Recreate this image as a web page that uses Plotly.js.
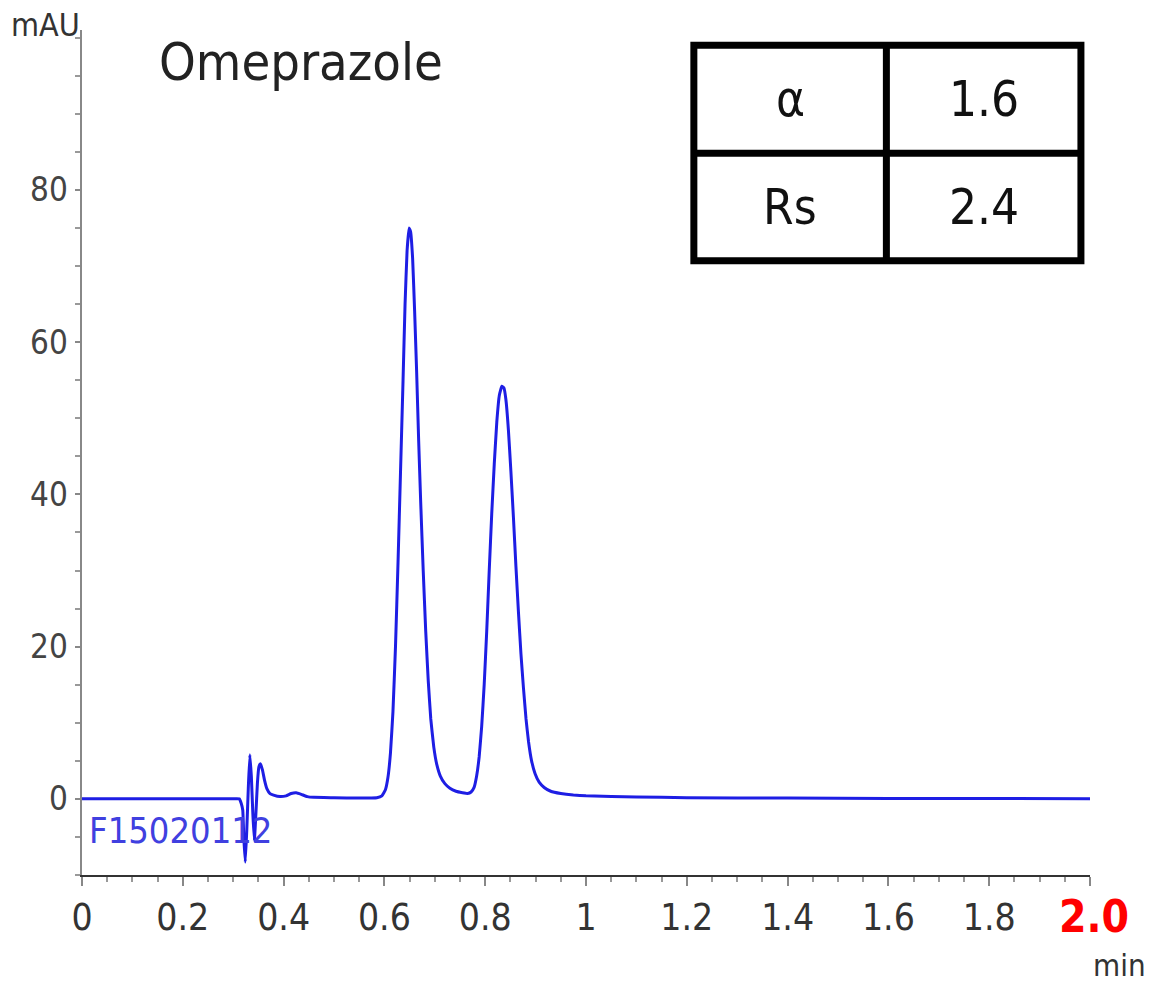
<!DOCTYPE html>
<html>
<head>
<meta charset="utf-8">
<script src="https://cdn.plot.ly/plotly-3.0.1.min.js"></script>
<style>
  html, body { margin: 0; padding: 0; background: #ffffff; }
  #chart { width: 1152px; height: 982px; }
</style>
</head>
<body>
<div id="chart"></div>
<script>
// ---- data ----
const timeMin = [
  0.000, 0.100, 0.200, 0.300, 0.312, 0.316, 0.319, 0.321, 0.324, 0.327,
  0.330, 0.333, 0.336, 0.339, 0.342, 0.345, 0.348, 0.351, 0.354, 0.358,
  0.362, 0.367, 0.373, 0.380, 0.393, 0.405, 0.415, 0.425, 0.435, 0.447,
  0.460, 0.500, 0.550, 0.585, 0.595, 0.602, 0.607, 0.612, 0.617, 0.622,
  0.627, 0.632, 0.637, 0.641, 0.645, 0.649, 0.652, 0.656, 0.660, 0.664,
  0.668, 0.672, 0.677, 0.682, 0.687, 0.692, 0.698, 0.704, 0.711, 0.720,
  0.730, 0.742, 0.755, 0.765, 0.772, 0.778, 0.783, 0.788, 0.793, 0.798,
  0.803, 0.808, 0.813, 0.818, 0.823, 0.828, 0.833, 0.837, 0.841, 0.846,
  0.851, 0.856, 0.861, 0.866, 0.871, 0.876, 0.881, 0.886, 0.892, 0.899,
  0.907, 0.917, 0.930, 0.950, 0.975, 1.000, 1.100, 1.200, 1.400, 1.600,
  1.800, 2.000
];
const signalMAU = [
  0.0, 0.0, 0.0, 0.0, 0.0, -0.6, -1.5, -5.0, -8.3, -4.0,
  1.5, 5.8, 3.0, -2.0, -5.5, -2.0, 2.0, 4.2, 4.6, 3.8,
  2.5, 1.3, 0.7, 0.5, 0.3, 0.4, 0.7, 0.8, 0.6, 0.3,
  0.2, 0.15, 0.1, 0.15, 0.4, 1.2, 2.8, 6.0, 11.5, 20,
  31, 43, 55, 65, 72, 75, 74.5, 71, 64, 56,
  47, 39, 30, 22, 15.5, 10.5, 6.8, 4.5, 3.0, 2.0,
  1.4, 1.0, 0.8, 0.7, 0.9, 1.5, 3.0, 5.5, 9.5, 15,
  22, 30, 37.5, 44, 49.5, 53, 54.2, 54, 52.5, 48.5,
  43, 37, 30.5, 24.5, 19, 14.5, 10.5, 7.5, 5.0, 3.3,
  2.2, 1.5, 1.0, 0.7, 0.5, 0.4, 0.25, 0.15, 0.1, 0.05,
  0.05, 0.0
];
const xTickVals = [0, 0.2, 0.4, 0.6, 0.8, 1.0, 1.2, 1.4, 1.6, 1.8, 2.0];
const xTickText = ['0', '0.2', '0.4', '0.6', '0.8', '1', '1.2', '1.4', '1.6', '1.8', ''];
const yTickVals = [0, 20, 40, 60, 80];
const yTickText = ['0', '20', '40', '60', '80'];
const tableLabels = ['α', 'Rs'];
const tableValues = ['1.6', '2.4'];
const chartTitle = 'Omeprazole';
const sampleId = 'F15020112';
const xEndLabel = '2.0';
const xUnit = 'min';
const yUnit = 'mAU';

// ---- layout ----
const FONT = '"DejaVu Sans Condensed", "Liberation Sans", Arial, sans-serif';

// table geometry (paper coords of plot area)
const tx0 = 0.607, tx1 = 0.991, txm = 0.798;
const ty0 = 0.727, ty1 = 0.982, tym = 0.854;
const rowCenters = [(ty1 + tym) / 2, (tym + ty0) / 2];

const shapes = [
  {type: 'rect', xref: 'paper', yref: 'paper', x0: tx0, x1: tx1, y0: ty0, y1: ty1,
   line: {color: '#000', width: 7}, fillcolor: 'rgba(0,0,0,0)'},
  {type: 'line', xref: 'paper', yref: 'paper', x0: txm, x1: txm, y0: ty0, y1: ty1,
   line: {color: '#000', width: 7}},
  {type: 'line', xref: 'paper', yref: 'paper', x0: tx0, x1: tx1, y0: tym, y1: tym,
   line: {color: '#000', width: 7}}
];

const annotations = [];
tableLabels.forEach((lab, i) => {
  annotations.push({xref: 'paper', yref: 'paper', x: (tx0 + txm) / 2, y: rowCenters[i],
    text: lab, showarrow: false, xanchor: 'center', yanchor: 'middle',
    font: {family: FONT, size: 49, color: '#111'}});
  annotations.push({xref: 'paper', yref: 'paper', x: (txm + tx1) / 2, y: rowCenters[i],
    text: tableValues[i], showarrow: false, xanchor: 'center', yanchor: 'middle',
    font: {family: FONT, size: 49, color: '#111'}});
});
annotations.push(
  {xref: 'paper', yref: 'paper', x: -0.072, y: 1.006, text: yUnit, showarrow: false,
   xanchor: 'left', yanchor: 'middle', font: {family: FONT, size: 32, color: '#333'}},
  {xref: 'paper', yref: 'paper', x: 0.074, y: 0.962, text: chartTitle, showarrow: false,
   xanchor: 'left', yanchor: 'middle', font: {family: FONT, size: 52, color: '#222'}},
  {xref: 'paper', yref: 'paper', x: 0.005, y: 0.053, text: sampleId, showarrow: false,
   xanchor: 'left', yanchor: 'middle', font: {family: FONT, size: 36, color: '#4040e0'}},
  {xref: 'paper', yref: 'paper', x: 1.004, y: -0.049, text: '<b>' + xEndLabel + '</b>', showarrow: false,
   xanchor: 'center', yanchor: 'middle', font: {family: FONT, size: 44, color: '#ff0000'}},
  {xref: 'paper', yref: 'paper', x: 1.058, y: -0.107, text: xUnit, showarrow: false,
   xanchor: 'right', yanchor: 'middle', font: {family: FONT, size: 31, color: '#333'}}
);

const trace = {
  x: timeMin, y: signalMAU, type: 'scatter', mode: 'lines',
  line: {color: '#1e1ee4', width: 3, shape: 'spline', smoothing: 0.3},
  hoverinfo: 'skip'
};

const layout = {
  width: 1152, height: 982,
  margin: {l: 82, r: 62, t: 30, b: 107},
  paper_bgcolor: '#ffffff', plot_bgcolor: '#ffffff',
  showlegend: false,
  font: {family: FONT, color: '#333'},
  xaxis: {
    range: [0, 2.0], showgrid: false, zeroline: false,
    showline: true, linecolor: '#333', linewidth: 2,
    tickmode: 'array', tickvals: xTickVals, ticktext: xTickText,
    ticks: 'outside', ticklen: 9, tickwidth: 2, tickcolor: '#888',
    tickfont: {family: FONT, size: 37, color: '#333'},
    minor: {dtick: 0.05, tick0: 0, ticks: 'outside', ticklen: 5, tickwidth: 2, tickcolor: '#999', showgrid: false},
    fixedrange: true
  },
  yaxis: {
    range: [-10, 101], showgrid: false, zeroline: false,
    showline: true, linecolor: '#888', linewidth: 2.5,
    tickmode: 'array', tickvals: yTickVals, ticktext: yTickText,
    ticks: 'outside', ticklen: 5, tickwidth: 2, tickcolor: '#888',
    tickfont: {family: FONT, size: 33, color: '#444'},
    minor: {dtick: 5, tick0: 0, ticks: 'outside', ticklen: 5, tickwidth: 2, tickcolor: '#999', showgrid: false},
    fixedrange: true
  },
  shapes: shapes,
  annotations: annotations
};

Plotly.newPlot('chart', [trace], layout, {staticPlot: true, displayModeBar: false});
</script>
</body>
</html>
